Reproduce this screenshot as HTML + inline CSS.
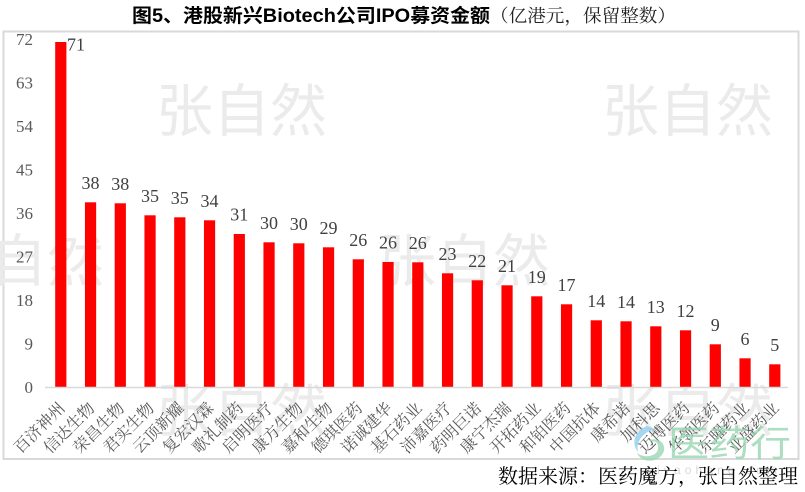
<!DOCTYPE html>
<html><head><meta charset="utf-8">
<style>
html,body{margin:0;padding:0;background:#fff;}
svg{display:block;}
.ax{font-family:"Liberation Serif","Noto Serif CJK SC",serif;font-size:17px;fill:#595959;}
.vl{font-family:"Liberation Serif","Noto Serif CJK SC",serif;font-size:18px;fill:#404040;text-anchor:middle;}
.cat{font-family:"Liberation Serif","Noto Serif CJK SC",serif;font-size:16px;fill:#595959;text-anchor:end;}
.wm{font-family:"Liberation Sans","Noto Sans CJK SC",sans-serif;font-size:57px;fill:#ebebeb;}
</style></head>
<body>
<svg width="805" height="492" viewBox="0 0 805 492" xmlns="http://www.w3.org/2000/svg">
<rect x="0" y="0" width="805" height="492" fill="#fff"/>
<!-- title -->
<text x="132" y="22" textLength="358" lengthAdjust="spacingAndGlyphs" style="font-family:'Liberation Sans','Noto Sans CJK SC',sans-serif;font-weight:bold;font-size:19px;fill:#000;">图5、港股新兴Biotech公司IPO募资金额</text>
<text x="490" y="22" textLength="186" lengthAdjust="spacingAndGlyphs" style="font-family:'Liberation Serif','Noto Serif CJK SC',serif;font-size:18px;fill:#222;">（亿港元，保留整数）</text>
<!-- chart border -->
<rect x="3.5" y="31.5" width="795" height="427.5" fill="#fff" stroke="#d9d9d9" stroke-width="2"/>
<!-- watermarks -->
<text class="wm" x="156" y="131">张自然</text>
<text class="wm" x="602" y="131">张自然</text>
<text class="wm" x="-67" y="281">张自然</text>
<text class="wm" x="379" y="281">张自然</text>
<text class="wm" x="156" y="431">张自然</text>
<text class="wm" x="602" y="431">张自然</text>
<!-- y axis labels -->
<g class="ax" text-anchor="end">
<text x="33" y="44.8">72</text>
<text x="33" y="88.3">63</text>
<text x="33" y="131.8">54</text>
<text x="33" y="175.4">45</text>
<text x="33" y="218.9">36</text>
<text x="33" y="262.4">27</text>
<text x="33" y="306">18</text>
<text x="33" y="349.5">9</text>
<text x="33" y="393">0</text>
</g>
<!-- bars -->
<g fill="#ff0000">
<rect x="55.2" y="42" width="11.2" height="345"/>
<rect x="84.95" y="202.3" width="11.2" height="184.7"/>
<rect x="114.7" y="203.3" width="11.2" height="183.7"/>
<rect x="144.45" y="215.3" width="11.2" height="171.7"/>
<rect x="174.2" y="217.3" width="11.2" height="169.7"/>
<rect x="203.95" y="220.3" width="11.2" height="166.7"/>
<rect x="233.7" y="234" width="11.2" height="153"/>
<rect x="263.45" y="242.3" width="11.2" height="144.7"/>
<rect x="293.2" y="243.3" width="11.2" height="143.7"/>
<rect x="322.95" y="247.3" width="11.2" height="139.7"/>
<rect x="352.7" y="259.3" width="11.2" height="127.7"/>
<rect x="382.45" y="262" width="11.2" height="125"/>
<rect x="412.2" y="262.3" width="11.2" height="124.7"/>
<rect x="441.95" y="273.3" width="11.2" height="113.7"/>
<rect x="471.7" y="280.3" width="11.2" height="106.7"/>
<rect x="501.45" y="285.3" width="11.2" height="101.7"/>
<rect x="531.2" y="296.3" width="11.2" height="90.7"/>
<rect x="560.95" y="304.3" width="11.2" height="82.7"/>
<rect x="590.7" y="320.3" width="11.2" height="66.7"/>
<rect x="620.45" y="321.3" width="11.2" height="65.7"/>
<rect x="650.2" y="326.3" width="11.2" height="60.7"/>
<rect x="679.95" y="330.3" width="11.2" height="56.7"/>
<rect x="709.7" y="344.3" width="11.2" height="42.7"/>
<rect x="739.45" y="358.3" width="11.2" height="28.7"/>
<rect x="769.2" y="364.3" width="11.2" height="22.7"/>
</g>
<!-- axis line -->
<line x1="45" y1="387.5" x2="788" y2="387.5" stroke="#d9d9d9" stroke-width="1.5"/>
<!-- value labels -->
<text class="vl" x="67" y="50.5" style="text-anchor:start">71</text>
<g class="vl">
<text x="90.55" y="188.8">38</text>
<text x="120.3" y="189.8">38</text>
<text x="150.05" y="201.8">35</text>
<text x="179.8" y="203.8">35</text>
<text x="209.55" y="206.8">34</text>
<text x="239.3" y="220.5">31</text>
<text x="269.05" y="228.8">30</text>
<text x="298.8" y="229.8">30</text>
<text x="328.55" y="233.8">29</text>
<text x="358.3" y="245.8">26</text>
<text x="388.05" y="248.5">26</text>
<text x="417.8" y="248.8">26</text>
<text x="447.55" y="259.8">23</text>
<text x="477.3" y="266.8">22</text>
<text x="507.05" y="271.8">21</text>
<text x="536.8" y="282.8">19</text>
<text x="566.55" y="290.8">17</text>
<text x="596.3" y="306.8">14</text>
<text x="626.05" y="307.8">14</text>
<text x="655.8" y="312.8">13</text>
<text x="685.55" y="316.8">12</text>
<text x="715.3" y="330.8">9</text>
<text x="745.05" y="344.8">6</text>
<text x="774.8" y="350.8">5</text>
</g>
<!-- category labels -->
<g class="cat">
<text transform="translate(65.8,409) rotate(-45)">百济神州</text>
<text transform="translate(95.55,409) rotate(-45)">信达生物</text>
<text transform="translate(125.3,409) rotate(-45)">荣昌生物</text>
<text transform="translate(155.05,409) rotate(-45)">君实生物</text>
<text transform="translate(184.8,409) rotate(-45)">云顶新耀</text>
<text transform="translate(214.55,409) rotate(-45)">复宏汉霖</text>
<text transform="translate(244.3,409) rotate(-45)">歌礼制药</text>
<text transform="translate(274.05,409) rotate(-45)">启明医疗</text>
<text transform="translate(303.8,409) rotate(-45)">康方生物</text>
<text transform="translate(333.55,409) rotate(-45)">嘉和生物</text>
<text transform="translate(363.3,409) rotate(-45)">德琪医药</text>
<text transform="translate(393.05,409) rotate(-45)">诺诚建华</text>
<text transform="translate(422.8,409) rotate(-45)">基石药业</text>
<text transform="translate(452.55,409) rotate(-45)">沛嘉医疗</text>
<text transform="translate(482.3,409) rotate(-45)">药明巨诺</text>
<text transform="translate(512.05,409) rotate(-45)">康宁杰瑞</text>
<text transform="translate(541.8,409) rotate(-45)">开拓药业</text>
<text transform="translate(571.55,409) rotate(-45)">和铂医药</text>
<text transform="translate(601.3,409) rotate(-45)">中国抗体</text>
<text transform="translate(631.05,409) rotate(-45)">康希诺</text>
<text transform="translate(660.8,409) rotate(-45)">加科思</text>
<text transform="translate(690.55,409) rotate(-45)">迈博医药</text>
<text transform="translate(720.3,409) rotate(-45)">华领医药</text>
<text transform="translate(750.05,409) rotate(-45)">东曜药业</text>
<text transform="translate(779.8,409) rotate(-45)">亚盛药业</text>
</g>
<!-- logo watermark -->
<g opacity="0.8">
<path d="M647,426 C636,430 630,442 638,452 C636,443 641,433 655,429 Z" fill="#8fcdef"/>
<path d="M650,440 C664,436 670,452 657,459 C649,463 640,460 637,453 C645,459 657,456 658,449 C659,443 655,440 650,442 Z" fill="#9ad8b6"/>
<text x="668" y="456" textLength="123" lengthAdjust="spacingAndGlyphs" style="font-family:'Liberation Sans','Noto Sans CJK SC',sans-serif;font-size:36px;fill:#98d6b2;">医药行</text>
<text x="647" y="474" textLength="130" lengthAdjust="spacing" style="font-family:'Liberation Sans',sans-serif;font-size:12px;fill:#cfcfcf;">yiyaohang.com</text>
</g>
<!-- footer -->
<text x="498" y="483" textLength="300" lengthAdjust="spacingAndGlyphs" style="font-family:'Liberation Serif','Noto Serif CJK SC',serif;font-size:20px;fill:#000;">数据来源：医药魔方，张自然整理</text>
</svg>
</body></html>
